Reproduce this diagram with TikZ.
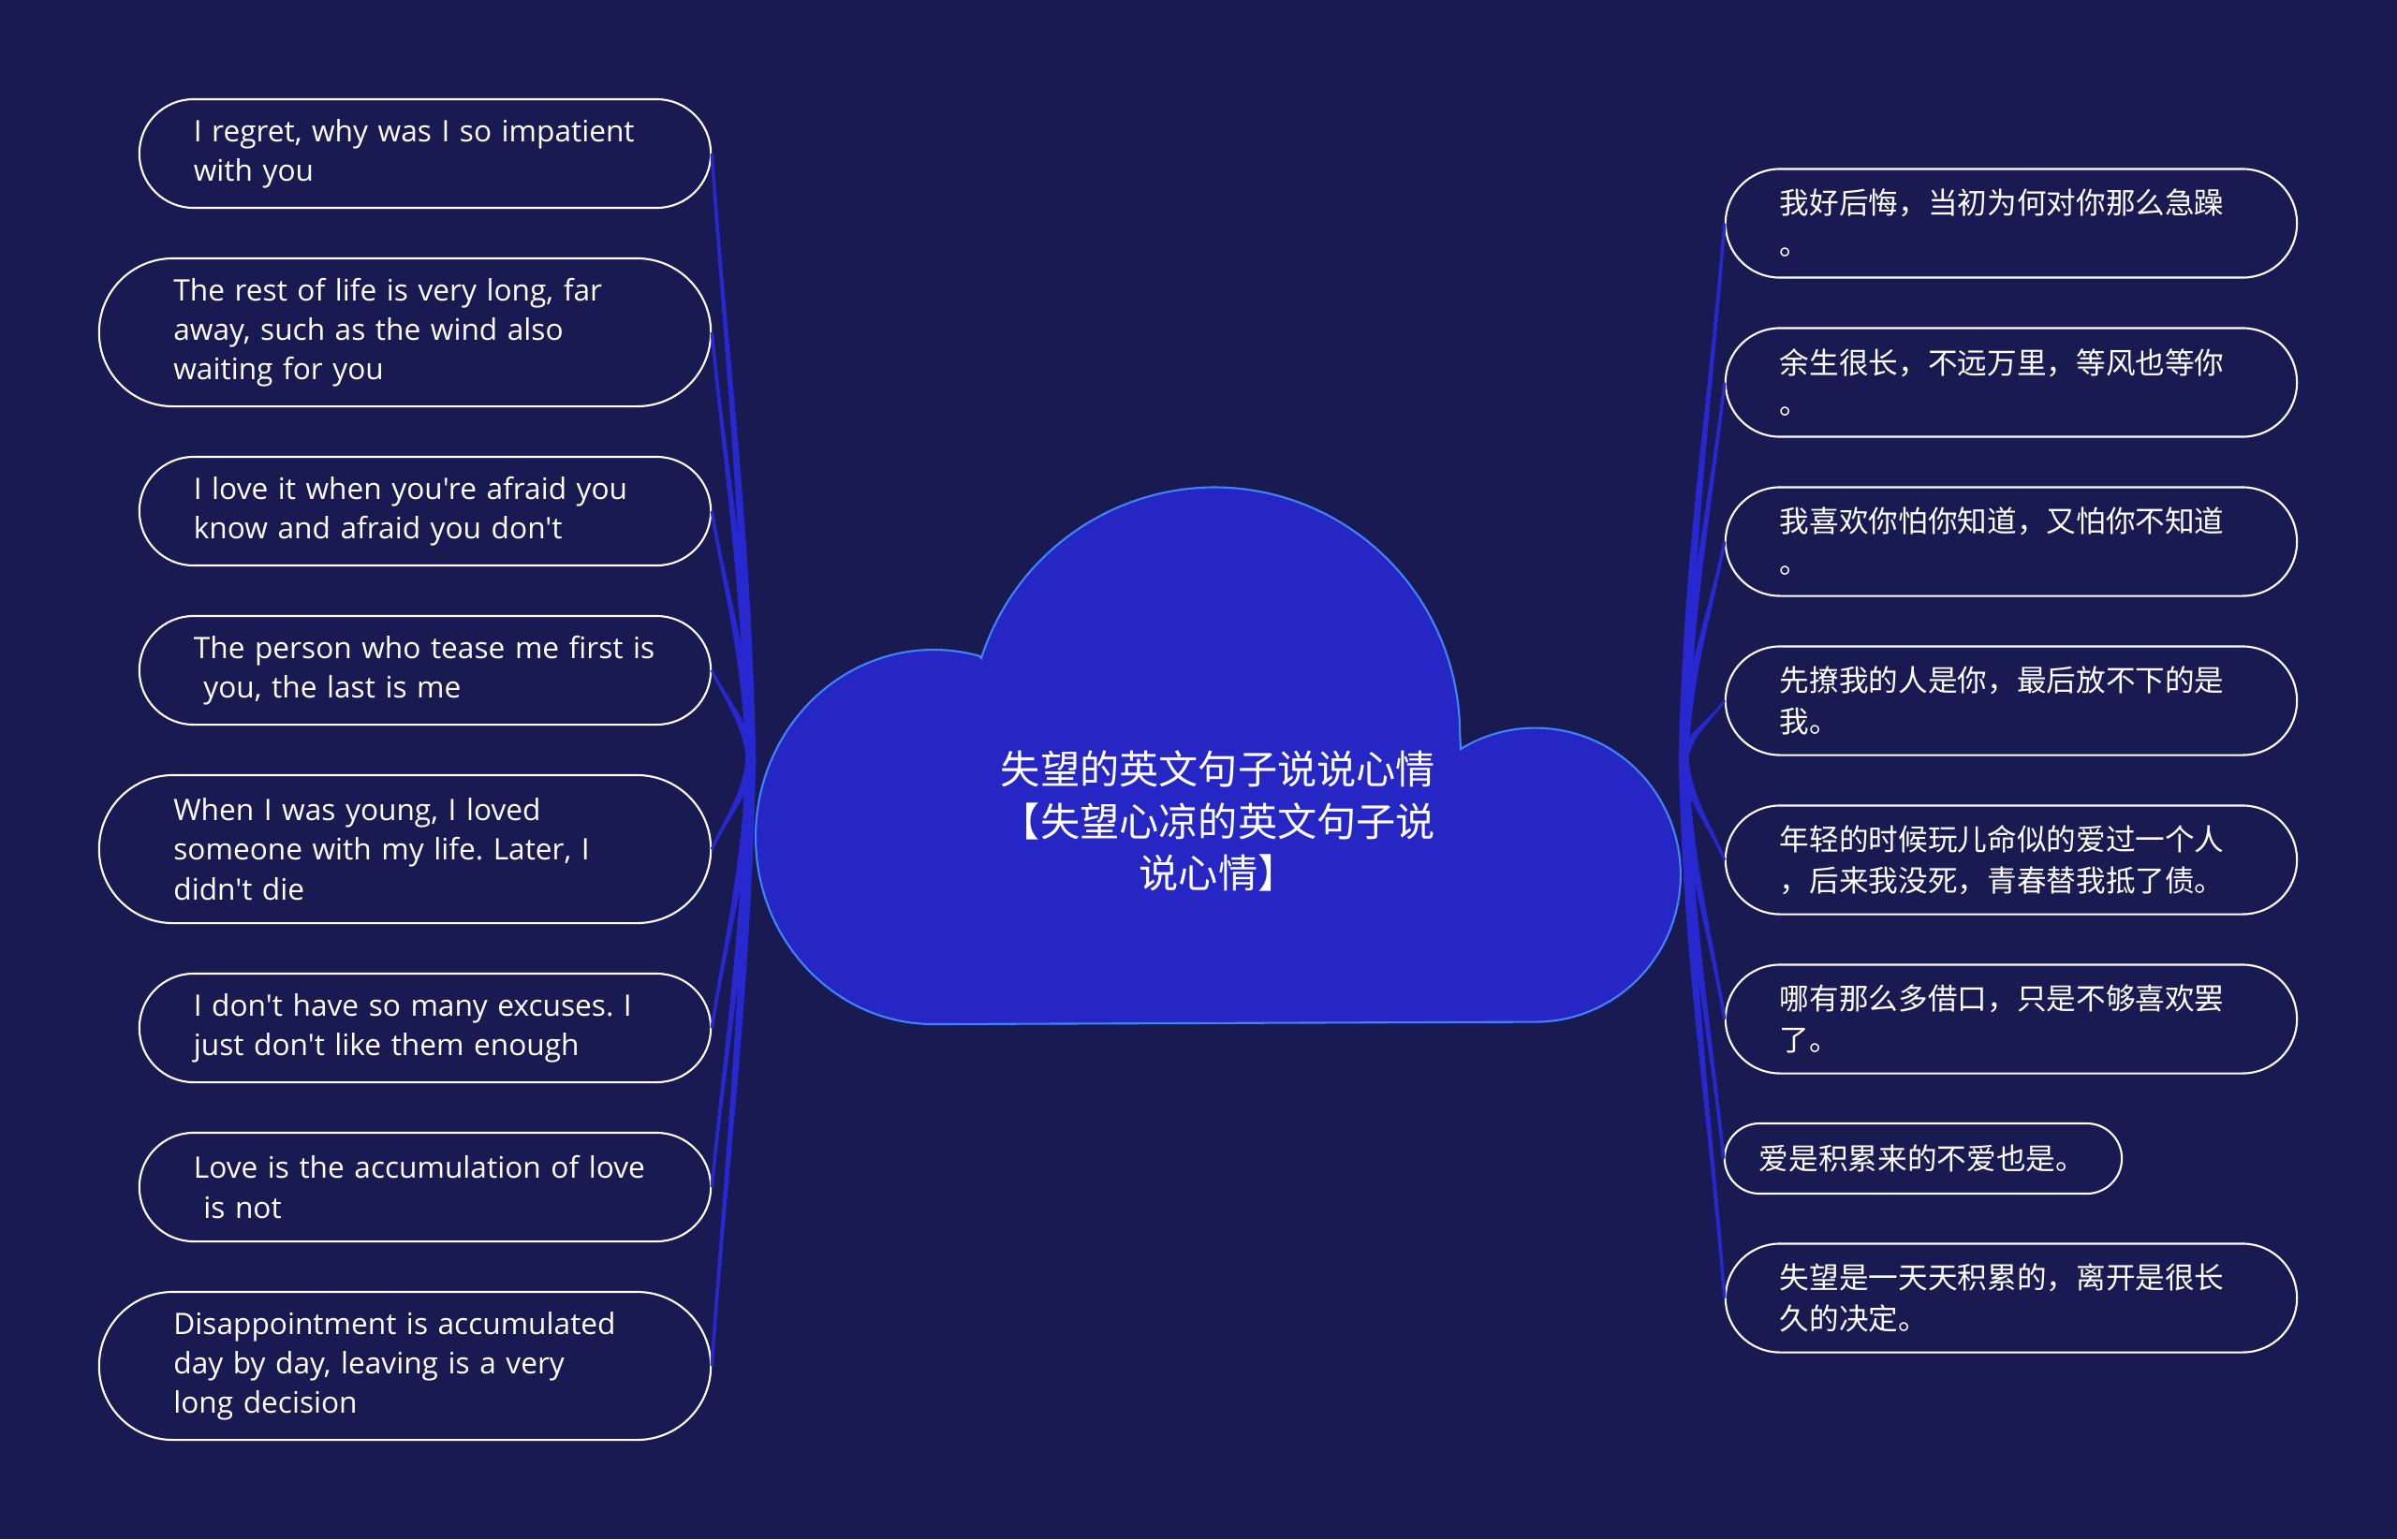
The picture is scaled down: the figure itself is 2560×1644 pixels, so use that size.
\documentclass[tikz,border=0pt]{standalone}
\usepackage{fontspec}
\setmainfont{Open Sans}[Ligatures=TeXOff]
\newfontfamily\cjk{Noto Sans CJK SC}
\usetikzlibrary{calc}
\definecolor{bg}{RGB}{25,26,82}
\definecolor{cloudfill}{RGB}{37,38,196}
\definecolor{cloudline}{RGB}{64,132,250}
\definecolor{connc}{RGB}{40,40,208}
\frenchspacing
\begin{document}
\begin{tikzpicture}[x=0.01cm,y=-0.01cm,
  leaf/.style={draw=white, line width=0.6pt, fill=bg, text=white, align=left, inner ysep=0pt},
  leafs/.style={leaf, text width=4.94cm, inner xsep=0.58cm, minimum height=1.16cm, rounded corners=0.579cm},
  leaft/.style={leaf, text width=4.94cm, inner xsep=0.795cm, minimum height=1.58cm, rounded corners=0.789cm},
  leafm/.style={leaf, text width=3.50cm, inner xsep=0.37cm, minimum height=0.75cm, rounded corners=0.374cm},
  en/.style={font=\fontsize{9}{12}\selectfont},
  zh/.style={font=\cjk\fontsize{9}{12.5}\selectfont},
  conn/.style={fill=connc}
]
\useasboundingbox (0,0) rectangle (2560,1644);
\fill[bg] (0,0) rectangle (2560,1644);

% cloud
\path[fill=cloudfill, draw=cloudline, line width=0.6pt]
  (997,1094) arc[start angle=90, end angle=285, x radius=190, y radius=200]
  -- (1048,703) arc[start angle=198, end angle=360, x radius=262, y radius=264]
  -- (1560,800) arc[start angle=239, end angle=450, x radius=155, y radius=157]
  -- cycle;
\node[text=white, align=center, font=\cjk\fontsize{12}{15.9}\selectfont] (title) at (1301,877)
  {失望的英文句子说说心情\\【失望心凉的英文句子说\\说心情】};

\coordinate (hubL) at (802,810);
\coordinate (hubR) at (1798,810);

% left nodes
\node[leafs,en] (L1) at (454,164) {I regret, why was I so impatient\\with you};
\node[leaft,en] (L2) at (432.5,355) {The rest of life is very long, far\\away, such as the wind also\\waiting for you};
\node[leafs,en] (L3) at (454,546) {I love it when you're afraid you\\know and afraid you don't};
\node[leafs,en] (L4) at (454,716) {The person who tease me first is\\\mbox{}\ you, the last is me};
\node[leaft,en] (L5) at (432.5,907) {When I was young, I loved\\someone with my life. Later, I\\didn't die};
\node[leafs,en] (L6) at (454,1098) {I don't have so many excuses. I\\just don't like them enough};
\node[leafs,en] (L7) at (454,1268) {Love is the accumulation of love\\\mbox{}\ is not};
\node[leaft,en] (L8) at (432.5,1459) {Disappointment is accumulated\\day by day, leaving is a very\\long decision};

% right nodes
\node[leafs,zh] (R1) at (2148,238.5) {我好后悔，当初为何对你那么急躁\\。};
\node[leafs,zh] (R2) at (2148,408.5) {余生很长，不远万里，等风也等你\\。};
\node[leafs,zh] (R3) at (2148,578.5) {我喜欢你怕你知道，又怕你不知道\\。};
\node[leafs,zh] (R4) at (2148,748.5) {先撩我的人是你，最后放不下的是\\我。};
\node[leafs,zh] (R5) at (2148,918.5) {年轻的时候玩儿命似的爱过一个人\\，后来我没死，青春替我抵了债。};
\node[leafs,zh] (R6) at (2148,1088.5) {哪有那么多借口，只是不够喜欢罢\\了。};
\node[leafm,zh] (R7) at (2054,1237.5) {爱是积累来的不爱也是。};
\node[leafs,zh] (R8) at (2148,1386.5) {失望是一天天积累的，离开是很长\\久的决定。};

% tapered connectors
\foreach \i in {1,...,8}{
  \path[conn] let \p1=(hubL), \p2=(L\i.east) in
    ({\x1-1.5pt},\y1) .. controls ({\x1-1.4pt-1.3pt},{\y1+0.4*(\y2-\y1)}) and ({\x2+4.5pt-0.5pt},{\y2+0.35*(\y1-\y2)}) .. ({\x2-0.5pt},\y2)
    -- ({\x2+0.5pt},\y2) .. controls ({\x2+4.5pt+0.5pt},{\y2+0.35*(\y1-\y2)}) and ({\x1-1.4pt+1.3pt},{\y1+0.4*(\y2-\y1)}) .. ({\x1+1.5pt},\y1) -- cycle;
  \path[conn] let \p1=(hubR), \p2=(R\i.west) in
    ({\x1+1.5pt},\y1) .. controls ({\x1+1.4pt+1.3pt},{\y1+0.4*(\y2-\y1)}) and ({\x2-4.5pt+0.5pt},{\y2+0.35*(\y1-\y2)}) .. ({\x2+0.5pt},\y2)
    -- ({\x2-0.5pt},\y2) .. controls ({\x2-4.5pt-0.5pt},{\y2+0.35*(\y1-\y2)}) and ({\x1+1.4pt-1.3pt},{\y1+0.4*(\y2-\y1)}) .. ({\x1-1.5pt},\y1) -- cycle;
}
\end{tikzpicture}
\end{document}
